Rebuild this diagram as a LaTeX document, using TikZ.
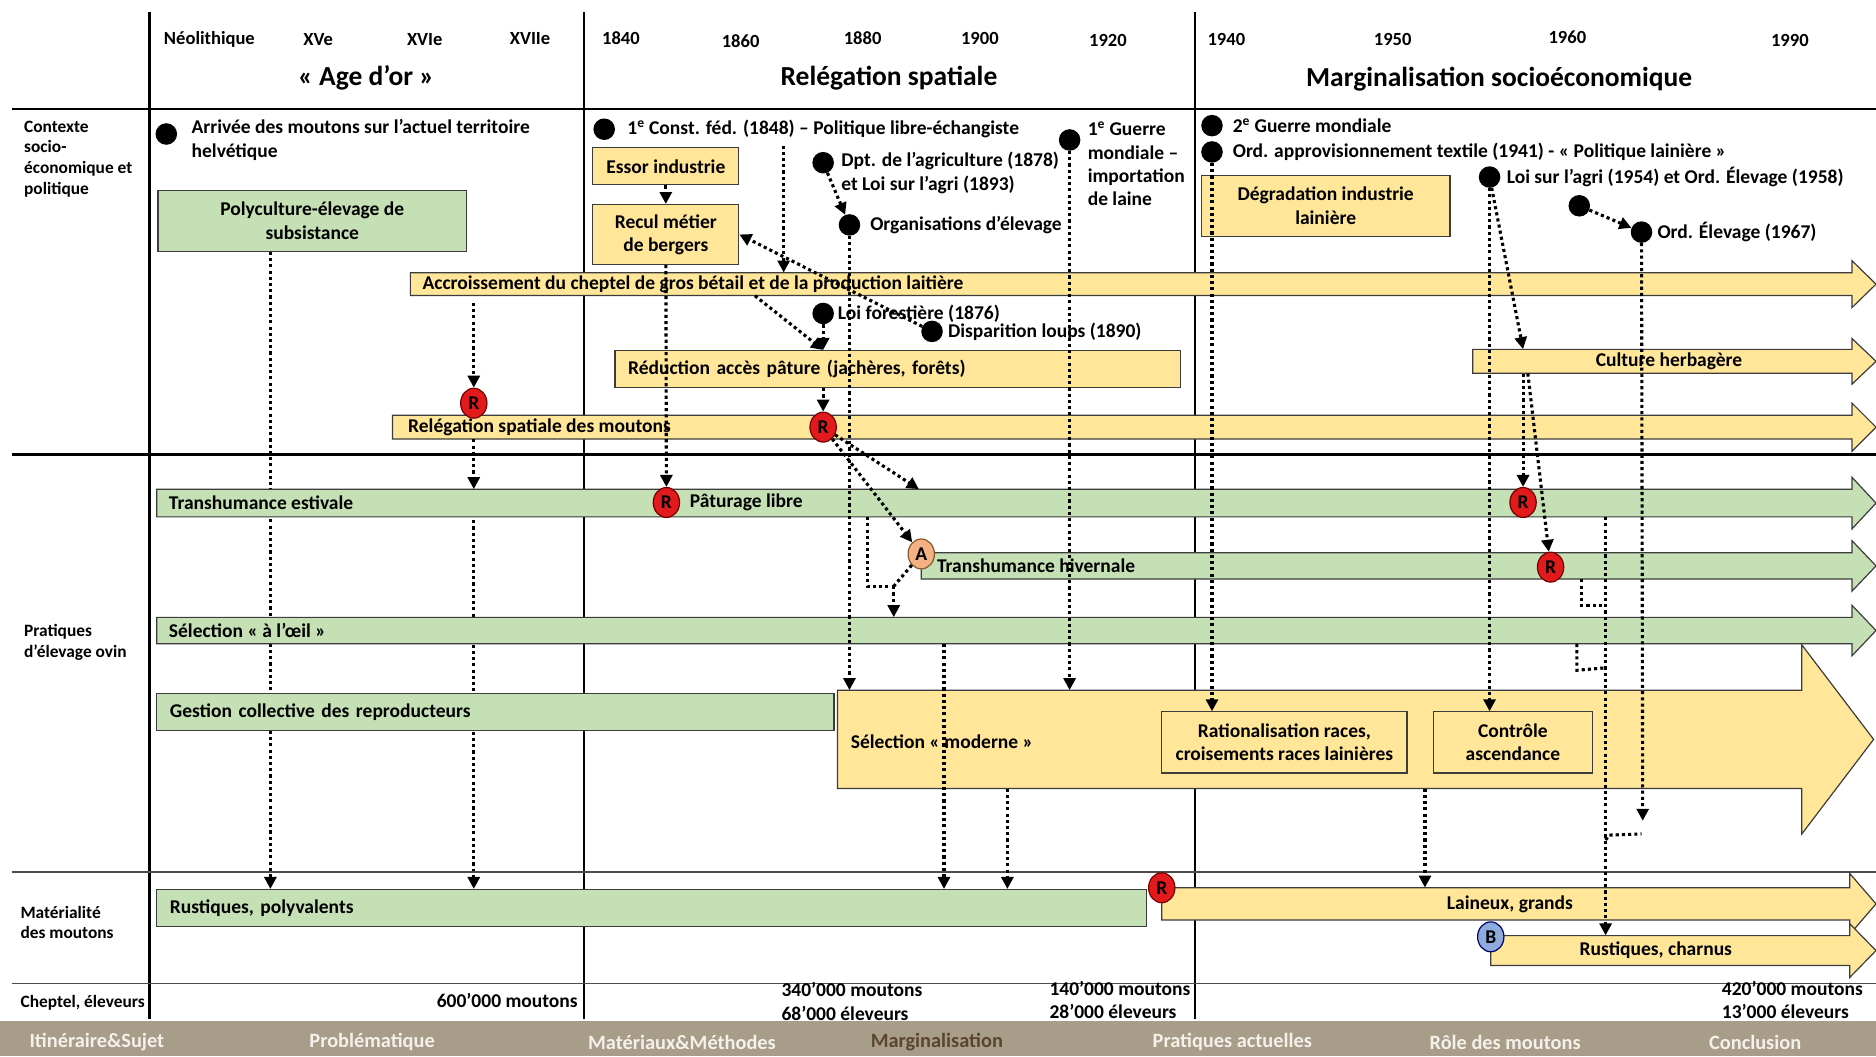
\documentclass[tikz,border=0pt]{standalone}
\usepackage{fontspec}
\setmainfont{Carlito}
\usetikzlibrary{arrows.meta, fit, positioning, shapes.geometric, backgrounds}

\definecolor{gold}{HTML}{FFE699}
\definecolor{sage}{HTML}{C5E0B4}
\definecolor{edge}{HTML}{3C3C3C}
\definecolor{redR}{HTML}{E31A1C}
\definecolor{salmon}{HTML}{F4B183}
\definecolor{blueB}{HTML}{8FAADC}
\definecolor{navbg}{HTML}{A89D89}
\definecolor{navtxt}{HTML}{F4F1EA}
\definecolor{navcur}{HTML}{5A4630}

\newcommand{\bodyfont}{\fontsize{16.3}{19.5}\selectfont\bfseries}
\newcommand{\rowfont}{\fontsize{14.5}{17.5}\selectfont\bfseries}
\newcommand{\yearfont}{\fontsize{15.5}{18}\selectfont\bfseries}
\newcommand{\erafont}{\fontsize{23}{26}\selectfont\bfseries}
\newcommand{\navfont}{\fontsize{17}{20}\selectfont\bfseries}

% timeline bar with arrow head: name, fill, x left, x tip, y top, y bottom, head length, head overshoot
\newcommand{\tlbar}[8]{%
  \filldraw[fill=#2, draw=edge, line width=1pt]
    (#3,#5) -- ({#4-#7},#5) -- ({#4-#7},{#5-#8}) -- (#4,{(#5+#6)/2})
    -- ({#4-#7},{#6+#8}) -- ({#4-#7},#6) -- (#3,#6) -- cycle;
  \node[fit={(#3,#5) (#4,#6)}, inner sep=0pt] (#1) {};
}

\begin{document}
\begin{tikzpicture}[x=1pt, y=-1pt,
  txt/.style={font=\bodyfont, inner sep=0pt, align=left},
  yearlbl/.style={font=\yearfont, inner sep=0pt},
  eralbl/.style={font=\erafont, inner sep=0pt},
  rowlbl/.style={font=\rowfont, inner sep=0pt, align=left, anchor=west},
  navlbl/.style={font=\navfont, inner sep=0pt, text=navtxt},
  ybox/.style={draw=edge, fill=gold, line width=1pt, font=\bodyfont, align=center, inner sep=0pt},
  gbox/.style={draw=edge, fill=sage, line width=1pt, font=\bodyfont, align=center, inner sep=0pt},
  dot/.style={circle, fill=black, minimum size=18pt, inner sep=0pt},
  rmark/.style={ellipse, draw=red!45!black, fill=redR, line width=1pt, minimum width=22pt, minimum height=25pt, inner sep=0pt, font=\bodyfont, text=black},
  amark/.style={rmark, draw=brown!70!black, fill=salmon},
  bmark/.style={rmark, draw=blue!40!black, fill=blueB},
  link/.style={line width=2.6pt, dash pattern=on 2.6pt off 2.6pt},
  conn/.style={link, -{Triangle[length=10pt, width=10pt]}},
  rule/.style={line width=2pt},
  fine/.style={line width=1.2pt, draw=black!70}]

\useasboundingbox (0,0) rectangle (1568,883);

% grid
\draw[rule] (125,10) -- (125,852);
\draw[rule] (488,10) -- (488,852);
\draw[rule] (999,10) -- (999,852);
\draw[rule] (10,91) -- (1568,91);
\draw[rule] (10,380) -- (1568,380);
\draw[fine] (10,729) -- (1568,729);
\draw[fine] (10,822) -- (1568,822);

% header
\node[yearlbl] (yNeo) at (175,33) {Néolithique};
\node[yearlbl] (y15) at (266,33) {XVe};
\node[yearlbl] (y16) at (355,33) {XVIe};
\node[yearlbl] (y17) at (443,32) {XVIIe};
\node[yearlbl] (y1840) at (519,32) {1840};
\node[yearlbl] (y1860) at (619,34) {1860};
\node[yearlbl] (y1880) at (721,32) {1880};
\node[yearlbl] (y1900) at (819,32) {1900};
\node[yearlbl] (y1920) at (926,34) {1920};
\node[yearlbl] (y1940) at (1025,33) {1940};
\node[yearlbl] (y1950) at (1164,33) {1950};
\node[yearlbl] (y1960) at (1310,31) {1960};
\node[yearlbl] (y1990) at (1496,34) {1990};
\node[eralbl] (eraOr) at (306,65) {« Age d’or »};
\node[eralbl] (eraRel) at (743,65) {Relégation spatiale};
\node[eralbl] (eraMarg) at (1253,66) {Marginalisation socioéconomique};

% row labels
\node[rowlbl] (rowCtx) at (20,133) {Contexte\\socio-\\économique et\\politique};
\node[rowlbl] (rowPrat) at (20,537) {Pratiques\\d’élevage ovin};
\node[rowlbl] (rowMat) at (17,771) {Matérialité\\des moutons};
\node[rowlbl] (rowChep) at (17,838) {Cheptel, éleveurs};

% boxes
\node[gbox, minimum width=258pt, minimum height=51pt] (poly) at (261,184.5) {Polyculture-élevage de\\subsistance};
\node[ybox, minimum width=122pt, minimum height=31pt] (essor) at (556.5,139) {Essor industrie};
\node[ybox, minimum width=122pt, minimum height=50pt] (recul) at (556.5,196) {Recul métier\\de bergers};
\node[ybox, minimum width=208pt, minimum height=51pt] (degrad) at (1108,172) {Dégradation industrie\\lainière};

% bars
\tlbar{accr}{gold}{343}{1568}{228}{247}{20}{10}
\node[txt, anchor=west] (accrTxt) at (353,237.5) {Accroissement du cheptel de gros bétail et de la production laitière};
\node[ybox, text width=451pt, inner xsep=11pt, minimum height=31pt, align=left] (reduc) at (750.5,308.5) {Réduction accès pâture (jachères, forêts)};
\tlbar{herbe}{gold}{1231}{1568}{292}{312}{20}{9}
\node[txt] (herbeTxt) at (1395,302) {Culture herbagère};
\tlbar{releg}{gold}{328}{1568}{347}{367}{20}{10}
\node[txt, anchor=west] (relegTxt) at (341,357) {Relégation spatiale des moutons};

\tlbar{estiv}{sage}{131}{1568}{409}{432}{20}{10}
\node[txt, anchor=west] (estivTxt) at (141,420) {Transhumance estivale};
\tlbar{hiver}{sage}{770}{1568}{462}{484}{20}{10}
\node[txt, anchor=west] (hiverTxt) at (783,473) {Transhumance hivernale};
\tlbar{oeil}{sage}{131}{1568}{516}{538}{20}{10}
\node[txt, anchor=west] (oeilTxt) at (141,527) {Sélection « à l’œil »};
\node[gbox, text width=544pt, inner xsep=11pt, minimum height=31pt, align=left] (gestion) at (414,595) {Gestion collective des reproducteurs};
\tlbar{moderne}{gold}{700}{1566}{577}{659}{60}{38}
\node[txt, anchor=west] (moderneTxt) at (711,620) {Sélection « moderne »};
\node[ybox, minimum width=205pt, minimum height=51pt] (ration) at (1073.5,620.5) {Rationalisation races,\\croisements races lainières};
\node[ybox, minimum width=133pt, minimum height=51pt] (controle) at (1264.5,620.5) {Contrôle\\ascendance};

\node[gbox, text width=805pt, inner xsep=11pt, minimum height=31pt, align=left] (rustpoly) at (544.5,759) {Rustiques, polyvalents};
\tlbar{laineux}{gold}{971}{1568}{742}{769}{22}{12}
\node[txt] (laineuxTxt) at (1262,756) {Laineux, grands};
\tlbar{charnus}{gold}{1246}{1568}{782}{807}{22}{10}
\node[txt] (charnusTxt) at (1384,794) {Rustiques, charnus};

% events
\node[dot] (dArrivee) at (139,112) {};
\node[txt, anchor=west] (tArrivee) at (160,117) {Arrivée des moutons sur l’actuel territoire\\helvétique};
\node[dot] (dConst) at (505,108) {};
\node[txt, right=10pt of dConst] (tConst) {1\textsuperscript{e} Const. féd. (1848) – Politique libre-échangiste};
\node[dot] (dDpt) at (688,136) {};
\node[txt, anchor=west] (tDpt) at (703,144.5) {Dpt. de l’agriculture (1878)\\et Loi sur l’agri (1893)};
\node[dot] (dOrg) at (710,188) {};
\node[txt, right=8pt of dOrg] (tOrg) {Organisations d’élevage};
\node[dot] (dGuerre1) at (894,117) {};
\node[txt, anchor=west] (tGuerre1) at (909,137) {1\textsuperscript{e} Guerre\\mondiale –\\importation\\de laine};
\node[dot] (dForest) at (688,262) {};
\node[txt, right=3pt of dForest] (tForest) {Loi forestière (1876)};
\node[dot] (dLoups) at (779,277) {};
\node[txt, right=4pt of dLoups] (tLoups) {Disparition loups (1890)};
\node[dot] (dGuerre2) at (1013,105) {};
\node[txt, right=8pt of dGuerre2] (tGuerre2) {2\textsuperscript{e} Guerre mondiale};
\node[dot] (dOrdTex) at (1013,127) {};
\node[txt, right=8pt of dOrdTex] (tOrdTex) {Ord. approvisionnement textile (1941) - « Politique lainière »};
\node[dot] (dLoiAgri) at (1245,148) {};
\node[txt, right=5pt of dLoiAgri] (tLoiAgri) {Loi sur l’agri (1954) et Ord. Élevage (1958)};
\node[dot] (dOrd58) at (1320,172) {};
\node[dot] (dOrd67) at (1372,194) {};
\node[txt, right=4pt of dOrd67] (tOrd67) {Ord. Élevage (1967)};

% markers
\node[rmark] (rRel) at (396,337) {R};
\node[rmark] (rRel2) at (688,357) {R};
\node[rmark] (rPat) at (557,420) {R};
\node[txt, right=8pt of rPat] (patTxt) {Pâturage libre};
\node[rmark] (rEst) at (1273,420) {R};
\node[rmark] (rHiv) at (1296,474) {R};
\node[rmark] (rLain) at (971,742) {R};
\node[amark] (aHiv) at (770,463) {A};
\node[bmark] (bCharn) at (1246,783) {B};

% columns of the connectors
\coordinate (colA) at (226,0);
\coordinate (colB) at (396,0);
\coordinate (xConst) at (655,0);
\coordinate (xAccr) at (631,0);
\coordinate (xEst) at (768,0);
\coordinate (xSelA) at (725,0);
\coordinate (jSel) at (747,490);
\coordinate (xOeil) at (789,0);
\coordinate (xMod) at (842,0);
\coordinate (xLain) at (1191,0);
\coordinate (xHerbe) at (1273,0);
\coordinate (xHerbe2) at (1277,0);
\coordinate (xCharn) at (1342,0);
\coordinate (eOrd67) at (1373,686);

% connectors hidden behind the boxes
\begin{scope}[on background layer]
\draw[conn] (poly.south -| colA) -- (rustpoly.north -| colA);
\draw[conn] (releg.south -| colB) -- (rustpoly.north -| colB);
\end{scope}

% connectors
\draw[conn] (essor) -- (recul);
\draw[conn] (recul) -- (rPat);
\draw[conn, shorten <=6pt] (tConst.south -| xConst) -- (accr.north -| xConst);
\draw[conn] (dDpt) -- (dOrg);
\draw[conn] (dOrg) -- (moderne.north -| dOrg);
\draw[conn] (dGuerre1) -- (moderne.north -| dGuerre1);
\draw[conn] (dLoups) -- (recul.east);
\draw[conn] (accr.south -| xAccr) -- (reduc.north -| dForest);
\draw[conn] (dForest) -- (reduc.north -| dForest);
\draw[conn] (reduc.south -| rRel2) -- (rRel2);
\draw[conn, shorten <=6pt] (accr.south -| rRel) -- (rRel);
\draw[conn] (releg.south -| colB) -- (estiv.north -| colB);
\draw[conn] (rRel2) -- (estiv.north -| xEst);
\draw[conn] (rRel2) -- (aHiv);
\draw[link] (estiv.south -| xSelA) |- (jSel);
\draw[link] (aHiv) -- (jSel);
\draw[conn] (jSel) -- (oeil.north -| jSel);
\draw[conn] (oeil.south -| xOeil) -- (rustpoly.north -| xOeil);
\draw[conn] (moderne.south -| xMod) -- (rustpoly.north -| xMod);
\draw[conn] (moderne.south -| xLain) -- (laineux.north -| xLain);
\draw[conn] (dOrdTex) -- (ration.north -| dOrdTex);
\draw[conn] (dLoiAgri) -- (controle.north -| dLoiAgri);
\draw[conn] (dLoiAgri) -- (herbe.north -| xHerbe);
\draw[conn] (herbe.south -| rEst) -- (rEst);
\draw[conn] (herbe.south -| xHerbe2) -- (rHiv);
\draw[conn] (dOrd58) -- (dOrd67);
\draw[conn] (dOrd67) -- (eOrd67);
\draw[conn] (estiv.south -| xCharn) -- (charnus.north -| xCharn);
\draw[link] (hiver.south -| xCharn) ++(-20,0) -- ++(0,22) -- ++(20,0);
\draw[link] (oeil.south -| xCharn) ++(-24,0) -- ++(0,22) -- ++(24,-2);
\draw[link] (eOrd67 -| xCharn) ++(0,16) -- ++(3,-4) -- ++(27,-1);

% herd figures
\node[txt, anchor=east] (chep1) at (483,836) {600’000 moutons};
\node[txt, anchor=west] (chep2) at (653,837) {340’000 moutons\\68’000 éleveurs};
\node[txt, anchor=west] (chep3) at (877,836) {140’000 moutons\\28’000 éleveurs};
\node[txt, anchor=west] (chep4) at (1439,836) {420’000 moutons\\13’000 éleveurs};

% navigation bar
\fill[navbg] (0,853) rectangle (1568,883);
\node[navlbl] (navItin) at (81,871) {Itinéraire\&Sujet};
\node[navlbl] (navProb) at (311,871) {Problématique};
\node[navlbl] (navMat) at (570,871) {Matériaux\&Méthodes};
\node[navlbl, text=navcur] (navMarg) at (783,871) {Marginalisation};
\node[navlbl] (navPrat) at (1030,871) {Pratiques actuelles};
\node[navlbl] (navRole) at (1258,871) {Rôle des moutons};
\node[navlbl] (navConc) at (1467,871) {Conclusion};

\end{tikzpicture}
\end{document}
